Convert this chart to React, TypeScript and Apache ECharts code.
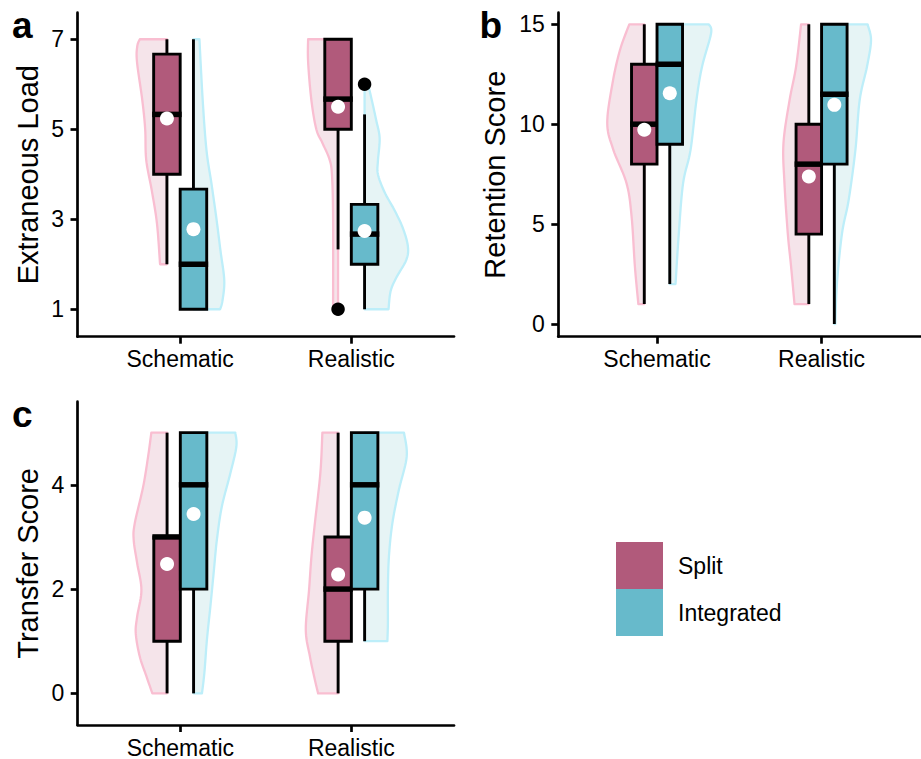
import React, { useEffect, useRef } from "react";
import * as echarts from "echarts";

// ---------- data ----------
const categories = ["Schematic", "Realistic"];
const groupNames = ["Split", "Integrated"];
const panelLetters = ["a", "b", "c"];
const measureNames = ["Extraneous Load", "Retention Score", "Transfer Score"];

const loadTicks = [1, 3, 5, 7];
const retentionTicks = [0, 5, 10, 15];
const transferTicks = [0, 2, 4];
const categoryTicks = [1, 2];

// box statistics per category: [min, Q1, median, Q3, max]
const loadSplitBox = [[2, 4, 5.33, 6.67, 7], [2.33, 5, 5.67, 7, 7]];
const loadIntegratedBox = [[1, 1, 2, 3.67, 7], [1, 2, 2.67, 3.33, 5.33]];
const retentionSplitBox = [[1, 8, 10, 13, 15], [1, 4.5, 8, 10, 15]];
const retentionIntegratedBox = [[2, 9, 13, 15, 15], [0, 8, 11.5, 15, 15]];
const transferSplitBox = [[0, 1, 3, 3, 5], [0, 1, 2, 3, 5]];
const transferIntegratedBox = [[0, 2, 4, 5, 5], [1, 2, 4, 5, 5]];

// means per category
const loadSplitMean = [5.24, 5.5];
const loadIntegratedMean = [2.78, 2.74];
const retentionSplitMean = [9.72, 7.38];
const retentionIntegratedMean = [11.55, 10.97];
const transferSplitMean = [2.48, 2.28];
const transferIntegratedMean = [3.44, 3.37];

// outliers per category
const loadSplitOutliers = [[], [1]];
const loadIntegratedOutliers = [[], [6]];
const retentionSplitOutliers = [[], []];
const retentionIntegratedOutliers = [[], []];
const transferSplitOutliers = [[], []];
const transferIntegratedOutliers = [[], []];

// half-violin density profiles per category: [value, half width (x-axis units)]
const loadSplitViolin = [
  [[7, 0.158], [6.85, 0.173], [6.5, 0.175], [5.65, 0.144], [5, 0.127], [4.32, 0.121], [3.63, 0.088], [2.9, 0.058], [2, 0.04]],
  [[7, 0.175], [6.5, 0.175], [5.65, 0.156], [5, 0.127], [4.7, 0.092], [4.32, 0.049], [3.95, 0.035], [3, 0.029], [1, 0.029]],
];
const loadIntegratedViolin = [
  [[7, 0.035], [5.65, 0.054], [4.54, 0.076], [3.8, 0.105], [3.05, 0.133], [2.3, 0.158], [1.65, 0.18], [1.2, 0.17], [1, 0.156]],
  [[6, 0.02], [5.7, 0.039], [5.2, 0.068], [4.8, 0.088], [4.3, 0.078], [4.0, 0.078], [3.6, 0.117], [3.2, 0.175], [2.8, 0.224], [2.4, 0.253], [2.1, 0.244], [1.7, 0.185], [1.4, 0.152], [1, 0.14]],
];
const retentionSplitViolin = [
  [[15, 0.091], [13.7, 0.148], [12.05, 0.193], [10.05, 0.225], [8.72, 0.188], [7.05, 0.108], [5.38, 0.077], [2.88, 0.057], [1, 0.036]],
  [[15, 0.047], [12.9, 0.077], [11.2, 0.117], [9.05, 0.154], [7.05, 0.148], [4.55, 0.128], [2.9, 0.108], [1, 0.087]],
];
const retentionIntegratedViolin = [
  [[15, 0.237], [14.55, 0.251], [12.88, 0.196], [11.2, 0.162], [8.7, 0.126], [7.05, 0.081], [4.55, 0.055], [2, 0.035]],
  [[15, 0.202], [14.2, 0.223], [12.9, 0.199], [11.2, 0.154], [8.7, 0.128], [6.2, 0.087], [4.55, 0.047], [2.05, 0.016], [0, 0.006]],
];
const transferSplitViolin = [
  [[5, 0.092], [4.54, 0.111], [3.96, 0.14], [3.26, 0.189], [2.94, 0.195], [2.5, 0.175], [1.98, 0.15], [1.47, 0.175], [1.15, 0.183], [0.71, 0.16], [0.33, 0.121], [0, 0.086]],
  [[5, 0.092], [4.22, 0.104], [3.26, 0.136], [2.62, 0.156], [1.98, 0.17], [1.22, 0.189], [0.71, 0.165], [0.26, 0.136], [0, 0.117]],
];
const transferIntegratedViolin = [
  [[5, 0.244], [4.73, 0.25], [4.22, 0.215], [3.58, 0.165], [2.94, 0.136], [2.3, 0.117], [1.66, 0.098], [1.03, 0.078], [0.39, 0.063], [0, 0.049]],
  [[5, 0.23], [4.54, 0.246], [3.9, 0.2], [3.26, 0.162], [2.62, 0.142], [1.98, 0.136], [1.35, 0.136], [1, 0.133]],
];

// ---------- styling ----------
const FONT = "'Liberation Sans', Arial, Helvetica, sans-serif";
const boxColors = ["#B15A7B", "#67BACB"];
const violinFill = ["#F5E4EA", "#E6F4F5"];
const violinStroke = ["#F9BED1", "#BDEEF9"];
const dodge = [-0.0775, 0.0775];
const boxWidth = 0.155;
const LINE = 2.9;

const panels = [
  {
    grid: { left: 77.5, top: 12.7, width: 376.5, height: 324 },
    yMin: 0.39, yMax: 7.59, ticks: loadTicks, nameGap: 34.7,
    box: [loadSplitBox, loadIntegratedBox],
    mean: [loadSplitMean, loadIntegratedMean],
    outliers: [loadSplitOutliers, loadIntegratedOutliers],
    violin: [loadSplitViolin, loadIntegratedViolin],
    label: { x: 12, y: 25.2 },
  },
  {
    grid: { left: 558.3, top: 12.7, width: 362, height: 324 },
    yMin: -0.635, yMax: 15.58, ticks: retentionTicks, nameGap: 48.8,
    box: [retentionSplitBox, retentionIntegratedBox],
    mean: [retentionSplitMean, retentionIntegratedMean],
    outliers: [retentionSplitOutliers, retentionIntegratedOutliers],
    violin: [retentionSplitViolin, retentionIntegratedViolin],
    label: { x: 479.5, y: 25.2 },
  },
  {
    grid: { left: 77.7, top: 401.7, width: 376.3, height: 324 },
    yMin: -0.607, yMax: 5.594, ticks: transferTicks, nameGap: 34.9,
    box: [transferSplitBox, transferIntegratedBox],
    mean: [transferSplitMean, transferIntegratedMean],
    outliers: [transferSplitOutliers, transferIntegratedOutliers],
    violin: [transferSplitViolin, transferIntegratedViolin],
    label: { x: 12, y: 414.5 },
  },
];

function catmull(pts: number[][], steps: number): number[][] {
  const out: number[][] = [];
  const n = pts.length;
  for (let i = 0; i < n - 1; i++) {
    const p0 = pts[Math.max(i - 1, 0)];
    const p1 = pts[i];
    const p2 = pts[i + 1];
    const p3 = pts[Math.min(i + 2, n - 1)];
    for (let s = 0; s < steps; s++) {
      const t = s / steps;
      const t2 = t * t;
      const t3 = t2 * t;
      const f = (k: number) =>
        0.5 * (2 * p1[k] + (-p0[k] + p2[k]) * t + (2 * p0[k] - 5 * p1[k] + 4 * p2[k] - p3[k]) * t2 + (-p0[k] + 3 * p1[k] - 3 * p2[k] + p3[k]) * t3);
      out.push([f(0), f(1)]);
    }
  }
  out.push(pts[n - 1]);
  return out;
}

function buildOption() {
  const grid: any[] = [];
  const xAxis: any[] = [];
  const yAxis: any[] = [];
  const series: any[] = [];
  const graphic: any[] = [];

  panels.forEach((panel, p) => {
    grid.push({ ...panel.grid, containLabel: false });
    xAxis.push({
      type: "value",
      gridIndex: p,
      min: 0.4,
      max: 2.6,
      splitLine: { show: false },
      axisLine: { show: true, onZero: false, lineStyle: { color: "#000", width: 2.7 } },
      axisTick: { show: true, customValues: categoryTicks, length: 7, lineStyle: { color: "#000", width: 2.7 } },
      axisLabel: {
        show: true,
        customValues: categoryTicks,
        formatter: (v: number) => categories[Math.round(v) - 1] ?? "",
        fontSize: 23,
        color: "#000",
        fontFamily: FONT,
        margin: 11,
      },
    });
    yAxis.push({
      type: "value",
      gridIndex: p,
      min: panel.yMin,
      max: panel.yMax,
      name: measureNames[p],
      nameLocation: "middle",
      nameGap: panel.nameGap,
      nameTextStyle: { fontSize: 29, color: "#000", fontFamily: FONT },
      splitLine: { show: false },
      axisLine: { show: true, onZero: false, lineStyle: { color: "#000", width: 2.7 } },
      axisTick: { show: true, customValues: panel.ticks, length: 7, lineStyle: { color: "#000", width: 2.7 } },
      axisLabel: {
        show: true,
        customValues: panel.ticks,
        fontSize: 23,
        color: "#000",
        fontFamily: FONT,
        margin: 13.5,
      },
    });

    [0, 1].forEach((g) => {
      const side = g === 0 ? -1 : 1;
      series.push({
        type: "custom",
        name: groupNames[g],
        xAxisIndex: p,
        yAxisIndex: p,
        silent: true,
        z: 2,
        itemStyle: { color: boxColors[g] },
        data: panel.box[g].map((s, i) => [i, ...s]),
        renderItem: (params: any, api: any) => {
          const cat = api.value(0);
          const mn = api.value(1);
          const q1 = api.value(2);
          const md = api.value(3);
          const q3 = api.value(4);
          const mx = api.value(5);
          const xc = cat + 1 + dodge[g];
          const profile = panel.violin[g][cat];
          const center = api.coord([xc, md]);
          const cx = center[0];
          const outer = profile.map(([v, w]: number[]) => api.coord([xc + side * w, v]));
          const smooth = catmull(outer, 10).map(([x, y]) => [side < 0 ? Math.min(x, cx) : Math.max(x, cx), y]);
          const top = api.coord([xc, profile[0][0]]);
          const bot = api.coord([xc, profile[profile.length - 1][0]]);
          const poly = [top, ...smooth, bot];

          const yMin = api.coord([xc, mn])[1];
          const yQ1 = api.coord([xc, q1])[1];
          const yMd = api.coord([xc, md])[1];
          const yQ3 = api.coord([xc, q3])[1];
          const yMax = api.coord([xc, mx])[1];
          const l = api.coord([xc - boxWidth / 2, md])[0];
          const r = api.coord([xc + boxWidth / 2, md])[0];

          return {
            type: "group",
            children: [
              {
                type: "polygon",
                shape: { points: poly },
                style: { fill: violinFill[g], stroke: violinStroke[g], lineWidth: 2.3, lineJoin: "round" },
              },
              {
                type: "line",
                shape: { x1: cx, y1: yQ1, x2: cx, y2: yMin },
                style: { stroke: "#000", lineWidth: LINE },
              },
              {
                type: "line",
                shape: { x1: cx, y1: yQ3, x2: cx, y2: yMax },
                style: { stroke: "#000", lineWidth: LINE },
              },
              {
                type: "rect",
                shape: { x: l, y: yQ3, width: r - l, height: yQ1 - yQ3 },
                style: { fill: boxColors[g], stroke: "#000", lineWidth: LINE },
              },
              {
                type: "line",
                shape: { x1: l - LINE / 2, y1: yMd, x2: r + LINE / 2, y2: yMd },
                style: { stroke: "#000", lineWidth: 5.5 },
              },
            ],
          };
        },
      });

      series.push({
        type: "scatter",
        name: groupNames[g] + " outliers",
        xAxisIndex: p,
        yAxisIndex: p,
        silent: true,
        z: 5,
        symbol: "circle",
        symbolSize: 13.5,
        itemStyle: { color: "#000", opacity: 1 },
        data: panel.outliers[g].flatMap((vals: number[], i: number) => vals.map((v) => [i + 1 + dodge[g], v])),
      });

      series.push({
        type: "scatter",
        name: groupNames[g] + " mean",
        xAxisIndex: p,
        yAxisIndex: p,
        silent: true,
        z: 6,
        symbol: "circle",
        symbolSize: 14,
        itemStyle: { color: "#fff", opacity: 1 },
        data: panel.mean[g].map((m: number, i: number) => [i + 1 + dodge[g], m]),
      });
    });

    graphic.push({
      type: "text",
      x: panel.label.x,
      y: panel.label.y,
      style: {
        text: panelLetters[p],
        font: `bold 37px ${FONT}`,
        fill: "#000",
        verticalAlign: "middle",
        align: "left",
      },
    });
  });

  return {
    animation: false,
    backgroundColor: "#fff",
    grid,
    xAxis,
    yAxis,
    series,
    graphic,
    legend: {
      show: true,
      orient: "vertical",
      left: 616,
      top: 542,
      padding: 0,
      itemWidth: 47,
      itemHeight: 47,
      itemGap: 0,
      selectedMode: false,
      icon: "rect",
      textStyle: { fontSize: 23, color: "#000", fontFamily: FONT, padding: [0, 0, 0, 10] },
      data: groupNames.map((n, g) => ({ name: n, icon: "rect", itemStyle: { color: boxColors[g], borderWidth: 0 } })),
    },
  };
}

export default function App() {
  const ref = useRef<HTMLDivElement>(null);
  useEffect(() => {
    if (!ref.current) return;
    const chart = echarts.init(ref.current, undefined, { renderer: "svg" });
    chart.setOption(buildOption() as any);
    return () => chart.dispose();
  }, []);
  return (
    <div
      ref={ref}
      style={{ position: "absolute", left: 0, top: 0, width: 921, height: 759, background: "#fff" }}
    />
  );
}
